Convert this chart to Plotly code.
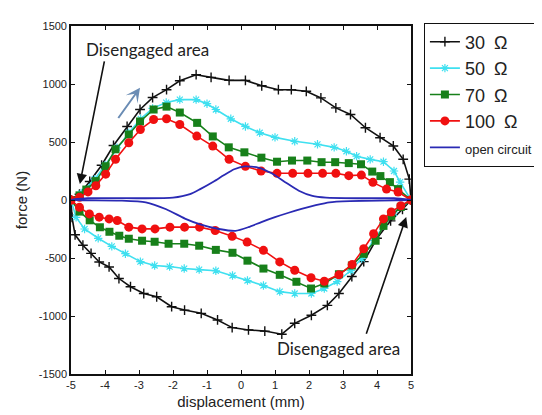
import plotly.graph_objects as go

# ---------------- data ----------------
x_ticks = [-5, -4, -3, -2, -1, 0, 1, 2, 3, 4, 5]
y_ticks = [-1500, -1000, -500, 0, 500, 1000, 1500]

# 30 ohm
r30_up_x = [-5, -4.75, -4.45, -4.1, -3.75, -3.35, -2.97, -2.6, -2.19, -1.8, -1.32, -0.88, -0.35, 0.13, 0.61, 1.1, 1.48, 1.92, 2.35, 2.79, 3.22, 3.66, 4.09, 4.48, 4.77, 4.95, 5]
r30_up_y = [0, 50, 160, 300, 470, 634, 780, 883, 951, 1028, 1080, 1057, 1031, 1031, 985, 951, 951, 937, 880, 794, 737, 623, 537, 466, 351, 180, 0]
r30_lo_x = [5, 4.75, 4.4, 4.0, 3.61, 3.26, 2.88, 2.54, 2.07, 1.58, 1.2, 0.7, 0.22, -0.26, -0.69, -1.17, -1.66, -2.04, -2.48, -2.86, -3.25, -3.59, -3.88, -4.17, -4.41, -4.65, -4.88, -4.97, -5]
r30_lo_y = [0, -80, -180, -330, -531, -660, -806, -908, -994, -1063, -1157, -1130, -1120, -1100, -1034, -977, -949, -920, -834, -806, -748, -677, -577, -534, -460, -390, -300, -150, 0]

# 50 ohm
r50_up_x = [-5, -4.7, -4.3, -4.0, -3.65, -3.3, -2.95, -2.6, -2.2, -1.8, -1.32, -1.0, -0.74, -0.3, 0.13, 0.55, 1.0, 1.58, 2.25, 2.74, 3.1, 3.4, 3.8, 4.19, 4.5, 4.68, 5]
r50_up_y = [0, 60, 180, 300, 450, 580, 700, 790, 840, 865, 865, 830, 780, 700, 634, 580, 540, 506, 480, 454, 420, 377, 350, 330, 250, 154, 0]
r50_lo_x = [5, 4.5, 4.2, 3.9, 3.55, 3.23, 2.83, 2.45, 2.07, 1.58, 1.14, 0.66, 0.19, -0.25, -0.74, -1.23, -1.67, -2.1, -2.54, -2.96, -3.4, -3.8, -4.2, -4.6, -4.85, -5]
r50_lo_y = [0, -110, -220, -350, -505, -608, -703, -763, -806, -806, -790, -737, -694, -651, -610, -600, -591, -574, -565, -531, -463, -400, -330, -250, -150, 0]

# 70 ohm
r70_up_x = [-5, -4.75, -4.55, -4.27, -3.98, -3.69, -3.3, -2.97, -2.57, -2.19, -1.8, -1.29, -0.83, -0.36, 0.1, 0.6, 1.06, 1.5, 1.95, 2.37, 2.77, 3.17, 3.53, 3.86, 4.1, 4.38, 4.62, 5]
r70_up_y = [0, 40, 90, 163, 291, 437, 565, 677, 780, 805, 754, 665, 548, 454, 411, 365, 330, 340, 340, 326, 326, 318, 308, 245, 206, 154, 94, 0]
r70_lo_x = [5, 4.7, 4.42, 4.19, 3.96, 3.61, 3.26, 2.88, 2.45, 2.06, 1.63, 1.14, 0.66, 0.19, -0.25, -0.74, -1.23, -1.67, -2.13, -2.54, -2.91, -3.3, -3.58, -3.87, -4.15, -4.45, -4.75, -5]
r70_lo_y = [0, -60, -137, -223, -351, -463, -565, -640, -720, -763, -705, -645, -591, -523, -455, -430, -394, -377, -377, -360, -351, -334, -308, -274, -235, -175, -100, 0]

# 100 ohm
r100_up_x = [-5, -4.75, -4.5, -4.27, -3.98, -3.69, -3.3, -2.96, -2.57, -2.19, -1.8, -1.3, -0.83, -0.35, 0.13, 0.59, 1.06, 1.52, 1.97, 2.4, 2.79, 3.17, 3.54, 3.88, 4.28, 4.62, 5]
r100_up_y = [0, 23, 70, 123, 223, 351, 494, 608, 694, 700, 651, 551, 465, 351, 290, 250, 230, 230, 230, 230, 230, 210, 215, 152, 94, 69, 0]
r100_lo_x = [5, 4.7, 4.42, 4.19, 3.9, 3.61, 3.27, 2.88, 2.45, 2.06, 1.58, 1.14, 0.66, 0.18, -0.26, -0.76, -1.22, -1.66, -2.09, -2.53, -2.91, -3.3, -3.64, -3.88, -4.17, -4.46, -4.75, -5]
r100_lo_y = [0, -50, -103, -163, -291, -420, -555, -645, -700, -670, -606, -534, -434, -363, -313, -263, -234, -234, -234, -249, -249, -234, -177, -163, -148, -120, -63, 0]

# open circuit
oc_up_x = [-5, -4.5, -3.0, -2.0, -1.5, -1.2, -0.8, -0.5, -0.2, 0.1, 0.5, 0.9, 1.3, 1.7, 2.1, 2.5, 3.5, 4.5, 5]
oc_up_y = [0, 15, 15, 20, 50, 94, 160, 215, 265, 290, 280, 230, 154, 80, 35, 20, 15, 15, 0]
oc_lo_x = [5, 3.2, 2.6, 2.2, 1.78, 1.4, 1.0, 0.6, 0.22, -0.16, -0.65, -1.2, -1.65, -2.2, -2.8, -3.5, -5]
oc_lo_y = [0, -10, -20, -45, -77, -110, -148, -190, -234, -266, -250, -210, -160, -80, -20, -5, 0]

names = ["30\u2002Ω", "50\u2002Ω", "70\u2002Ω", "100\u2002Ω",
         '<span style="font-size:13px">open circuit</span>']

# ---------------- figure ----------------
fig = go.Figure()

def loop(ux, uy, lx, ly):
    return ux + lx, uy + ly

x, y = loop(r30_up_x, r30_up_y, r30_lo_x, r30_lo_y)
fig.add_trace(go.Scatter(x=x, y=y, name=names[0], mode="lines+markers",
                         line=dict(color="#111111", width=1.6),
                         marker=dict(symbol="cross-thin", size=7, color="#111111",
                                     line=dict(color="#111111", width=1.4))))
x, y = loop(r50_up_x, r50_up_y, r50_lo_x, r50_lo_y)
fig.add_trace(go.Scatter(x=x, y=y, name=names[1], mode="lines+markers",
                         line=dict(color="#3fe0f0", width=1.6),
                         marker=dict(symbol="asterisk", size=7, color="#3fe0f0",
                                     line=dict(color="#3fe0f0", width=1.2))))
x, y = loop(r70_up_x, r70_up_y, r70_lo_x, r70_lo_y)
fig.add_trace(go.Scatter(x=x, y=y, name=names[2], mode="lines+markers",
                         line=dict(color="#17801a", width=1.6),
                         marker=dict(symbol="square", size=8, color="#17801a")))
x, y = loop(r100_up_x, r100_up_y, r100_lo_x, r100_lo_y)
fig.add_trace(go.Scatter(x=x, y=y, name=names[3], mode="lines+markers",
                         line=dict(color="#f01010", width=1.6),
                         marker=dict(symbol="circle", size=9, color="#f01010")))
x, y = loop(oc_up_x, oc_up_y, oc_lo_x, oc_lo_y)
fig.add_trace(go.Scatter(x=x, y=y, name=names[4], mode="lines",
                         line=dict(color="#2a2ab4", width=1.8, shape="spline", smoothing=0.6)))

tick_font = dict(family="Liberation Sans Narrow, Liberation Sans, Arial", size=11, color="#222")
title_font = dict(family="Liberation Sans Narrow, Liberation Sans, Arial", size=15, color="#222")

fig.update_xaxes(range=[-5, 5], tickvals=x_ticks, ticktext=[str(v) for v in x_ticks],
                 ticks="inside", ticklen=4, tickcolor="#111", showline=True, linecolor="#111",
                 linewidth=1.6, mirror="ticks", showgrid=False, zeroline=False,
                 tickfont=tick_font, title=dict(text="displacement (mm)", font=title_font, standoff=6))
fig.update_yaxes(range=[-1500, 1500], tickvals=y_ticks, ticktext=[str(v) for v in y_ticks],
                 ticks="inside", ticklen=4, tickcolor="#111", showline=True, linecolor="#111",
                 linewidth=1.6, mirror="ticks", showgrid=False, zeroline=False,
                 tickfont=tick_font, title=dict(text="force (N)", font=title_font, standoff=8))

ann_font = dict(family="Lato, Noto Sans, sans-serif", size=17, color="#222")
fig.add_annotation(x=-2.75, y=1294, xref="x", yref="y", text="Disengaged area",
                   showarrow=False, font=ann_font)
fig.add_annotation(x=2.86, y=-1277, xref="x", yref="y", text="Disengaged area",
                   showarrow=False, font=ann_font)
# black arrows
fig.add_annotation(x=-4.74, y=137, ax=-4.01, ay=1208, xref="x", yref="y", axref="x", ayref="y",
                   text="", showarrow=True, arrowhead=2, arrowsize=1.3, arrowwidth=1.6, arrowcolor="#111")
fig.add_annotation(x=4.86, y=-146, ax=3.67, ay=-1165, xref="x", yref="y", axref="x", ayref="y",
                   text="", showarrow=True, arrowhead=2, arrowsize=1.3, arrowwidth=1.6, arrowcolor="#111")
# steel-blue direction arrow
fig.add_annotation(x=-2.97, y=968, ax=-3.64, ay=694, xref="x", yref="y", axref="x", ayref="y",
                   text="", showarrow=True, arrowhead=3, arrowsize=1.2, arrowwidth=2, arrowcolor="#6a8cb4")

fig.update_layout(
    width=542, height=415,
    margin=dict(l=63, r=134, t=16, b=49),
    paper_bgcolor="white", plot_bgcolor="white",
    showlegend=True,
    legend=dict(x=1.038, y=1.01, xanchor="left", yanchor="top",
                bordercolor="#111", borderwidth=1, bgcolor="white",
                font=dict(family="Liberation Sans Narrow, Liberation Sans, Arial", size=18, color="#222"),
                tracegroupgap=0, itemwidth=30),
)

fig.write_html("out.html")
